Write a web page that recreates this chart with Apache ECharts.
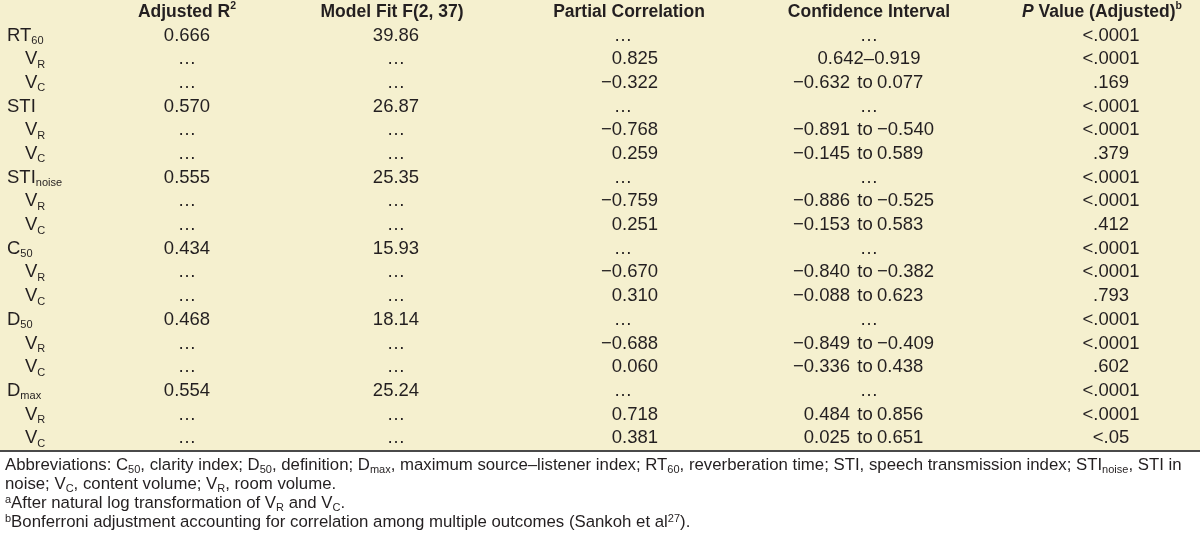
<!DOCTYPE html>
<html><head><meta charset="utf-8">
<script src="https://cdn.jsdelivr.net/npm/echarts@6/dist/echarts.min.js"></script>
<style>html,body{margin:0;padding:0;background:#fff}#c{width:1200px;height:540px}</style>
</head><body><div id="c"></div>
<script>
// ---------- data ----------
const headers = ['{b|Adjusted R}{bsup|2}', '{b|Model Fit F(2, 37)}', '{b|Partial Correlation}', '{b|Confidence Interval}', '{bi|P}{b| Value (Adjusted)}{bsup|b}'];
const measureBase = ['RT', 'STI', 'STI', 'C', 'D', 'D'];
const measureSub = ['60', '', 'noise', '50', '50', 'max'];
const predictorSub = ['R', 'C'];
const adjR2 = [0.666, 0.570, 0.555, 0.434, 0.468, 0.554];
const modelF = [39.86, 26.87, 25.35, 15.93, 18.14, 25.24];
const partialVR = [0.825, -0.768, -0.759, -0.670, -0.688, 0.718];
const partialVC = [-0.322, 0.259, 0.251, 0.310, 0.060, 0.381];
const ciVRLow = [0.642, -0.891, -0.886, -0.840, -0.849, 0.484];
const ciVRHigh = [0.919, -0.540, -0.525, -0.382, -0.409, 0.856];
const ciVRSep = ['–', 'to', 'to', 'to', 'to', 'to'];
const ciVCLow = [-0.632, -0.145, -0.153, -0.088, -0.336, 0.025];
const ciVCHigh = [0.077, 0.589, 0.583, 0.623, 0.438, 0.651];
const ciVCSep = ['to', 'to', 'to', 'to', 'to', 'to'];
const pModel = ['<.0001', '<.0001', '<.0001', '<.0001', '<.0001', '<.0001'];
const pVR = ['<.0001', '<.0001', '<.0001', '<.0001', '<.0001', '<.0001'];
const pVC = ['.169', '.379', '.412', '.793', '.602', '<.05'];
const footnotes = [
  'Abbreviations: C{s|50}, clarity index; D{s|50}, definition; D{s|max}, maximum source–listener index; RT{s|60}, reverberation time; STI, speech transmission index; STI{s|noise}, STI in',
  'noise; V{s|C}, content volume; V{s|R}, room volume.',
  '{sup|a}After natural log transformation of V{s|R} and V{s|C}.',
  '{sup|b}Bonferroni adjustment accounting for correlation among multiple outcomes (Sankoh et al{sup|27}).'
];

// ---------- layout / style ----------
const INK = '#231f20';
const FONT = 'Liberation Sans';
const FS = 18.5;
const HFS = 17.5;
const COL = { label: 7, indent: 25, r2: 187, f: 396, pcRight: 658, pcDots: 623, ciLoRight: 850, ciSep: 865, ciHiLeft: 877, ciCenter: 869, p: 1111 };
const HEADX = [187, 392, 629, 869, 1102];
const DOTS = '…';

const richBody = {
  n: { fontSize: FS, fontFamily: FONT, lineHeight: 22 },
  s: { fontSize: 11, fontFamily: FONT, lineHeight: 12, verticalAlign: 'bottom' },
  b: { fontSize: HFS, fontFamily: FONT, fontWeight: 'bold', lineHeight: 22 },
  bi: { fontSize: HFS, fontFamily: FONT, fontWeight: 'bold', fontStyle: 'italic', lineHeight: 22 },
  bsup: { fontSize: 10.5, fontFamily: FONT, fontWeight: 'bold', lineHeight: 12, verticalAlign: 'top' }
};

const fmt3 = v => (v < 0 ? '−' : '') + Math.abs(v).toFixed(3);

// ---------- build cells ----------
const rowKeys = ['header'];
const cells = [];
headers.forEach((h, i) => cells.push({ x: HEADX[i], row: 0, text: h, align: 'center' }));
measureBase.forEach((base, i) => {
  const r0 = rowKeys.length;
  rowKeys.push(base + measureSub[i], base + measureSub[i] + '_VR', base + measureSub[i] + '_VC');
  cells.push({ x: COL.label, row: r0, text: '{n|' + base + '}' + (measureSub[i] ? '{s|' + measureSub[i] + '}' : ''), align: 'left' });
  cells.push({ x: COL.r2, row: r0, text: adjR2[i].toFixed(3), align: 'center' });
  cells.push({ x: COL.f, row: r0, text: modelF[i].toFixed(2), align: 'center' });
  cells.push({ x: COL.pcDots, row: r0, text: DOTS, align: 'center' });
  cells.push({ x: COL.ciCenter, row: r0, text: DOTS, align: 'center' });
  cells.push({ x: COL.p, row: r0, text: pModel[i], align: 'center' });
  const pc = [partialVR[i], partialVC[i]];
  const lo = [ciVRLow[i], ciVCLow[i]];
  const hi = [ciVRHigh[i], ciVCHigh[i]];
  const sep = [ciVRSep[i], ciVCSep[i]];
  const pv = [pVR[i], pVC[i]];
  predictorSub.forEach((ps, k) => {
    const r = r0 + 1 + k;
    cells.push({ x: COL.indent, row: r, text: '{n|V}{s|' + ps + '}', align: 'left' });
    cells.push({ x: COL.r2, row: r, text: DOTS, align: 'center' });
    cells.push({ x: COL.f, row: r, text: DOTS, align: 'center' });
    cells.push({ x: COL.pcRight, row: r, text: fmt3(pc[k]), align: 'right' });
    if (sep[k] === 'to') {
      cells.push({ x: COL.ciLoRight, row: r, text: fmt3(lo[k]), align: 'right' });
      cells.push({ x: COL.ciSep, row: r, text: 'to', align: 'center' });
      cells.push({ x: COL.ciHiLeft, row: r, text: fmt3(hi[k]), align: 'left' });
    } else {
      cells.push({ x: COL.ciCenter, row: r, text: fmt3(lo[k]) + sep[k] + fmt3(hi[k]), align: 'center' });
    }
    cells.push({ x: COL.p, row: r, text: pv[k], align: 'center' });
  });
});

const chart = echarts.init(document.getElementById('c'), null, { renderer: 'canvas' });
chart.setOption({
  animation: false,
  backgroundColor: '#ffffff',
  grid: { left: 0, right: 0, top: 0, bottom: 90, show: true, backgroundColor: '#f5f0cf', borderWidth: 0 },
  xAxis: {
    type: 'value', min: 0, max: 1200, offset: 1,
    axisLine: { show: true, lineStyle: { color: '#4a4a4a', width: 2 } },
    axisTick: { show: false }, axisLabel: { show: false }, splitLine: { show: false }
  },
  yAxis: { type: 'category', data: rowKeys, inverse: true, show: false },
  series: [{
    type: 'custom',
    silent: true,
    clip: false,
    data: cells.map(c => [c.x, c.row]),
    renderItem: (params, api) => {
      const c = cells[params.dataIndex];
      const p = api.coord([api.value(0), api.value(1)]);
      return {
        type: 'text', x: p[0], y: p[1],
        style: {
          text: c.text, rich: richBody, fill: INK, align: c.align, verticalAlign: 'middle',
          fontSize: FS, fontFamily: FONT, lineHeight: 22
        }
      };
    }
  }],
  graphic: [{
    type: 'text', left: 5, top: 456, silent: true,
    style: {
      text: footnotes.join('\n'), fill: INK, fontSize: 16.8, fontFamily: FONT, lineHeight: 19,
      rich: {
        s: { fontSize: 11, fontFamily: FONT, lineHeight: 10, verticalAlign: 'bottom' },
        sup: { fontSize: 11, fontFamily: FONT, lineHeight: 10, verticalAlign: 'top' }
      }
    }
  }]
});
</script></body></html>
